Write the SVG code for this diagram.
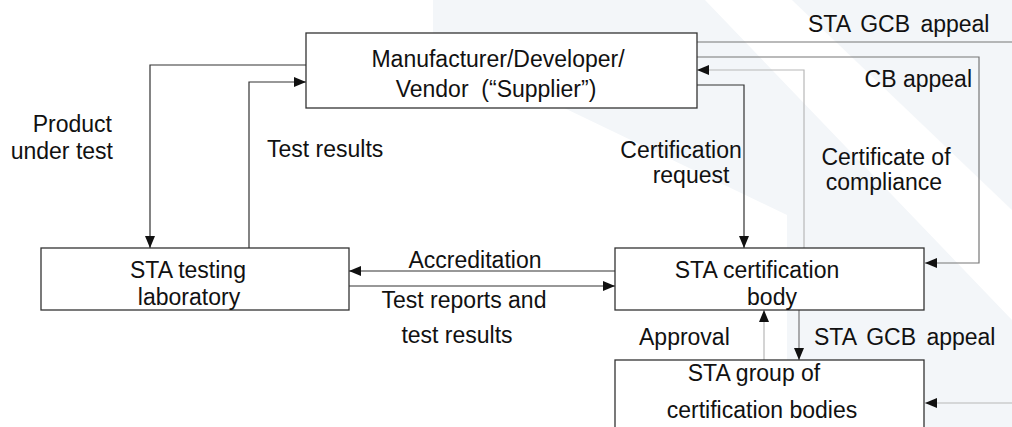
<svg xmlns="http://www.w3.org/2000/svg" width="1012" height="427" viewBox="0 0 1012 427">
  <style>
    text { font-family: "Liberation Sans", Arial, sans-serif; font-size: 23px; fill: #111; }
    .box { fill: #fff; stroke: #333; stroke-width: 1.3; }
    .ln { fill: none; stroke: #333; stroke-width: 1.2; }
    .mid { stroke: #777; }
    .lite { stroke: #b8b8b8; }
    .wm { fill: #f3f6f9; }
  </style>
  <defs>
    <marker id="arr" markerUnits="userSpaceOnUse" markerWidth="13" markerHeight="11" refX="12" refY="5" orient="auto">
      <path d="M0,0 L12,5 L0,10 z" fill="#111"/>
    </marker>
  </defs>
  <rect width="1012" height="427" fill="#fff"/>

  <!-- faint background emblem -->
  <g id="backdrop">
    <polygon class="wm" points="433,0 705,0 1012,320 1012,427 787,427 787,215 433,45"/>
    <polygon class="wm" points="792,0 1012,0 1012,210"/>
  </g>

  <g id="connectors">
    <path class="ln" d="M306,65 H150 V248" marker-end="url(#arr)"/>
    <path class="ln" d="M249,248 V82 H306" marker-end="url(#arr)"/>
    <path class="ln" d="M697,85 H744 V248" marker-end="url(#arr)"/>
    <path class="ln lite" d="M804,248 V70 H697" marker-end="url(#arr)"/>
    <path class="ln mid" d="M697,57 H979 V263 H925" marker-end="url(#arr)"/>
    <path class="ln mid" d="M697,42 H1012"/>
    <path class="ln" d="M615,271 H349" marker-end="url(#arr)"/>
    <path class="ln" d="M349,286 H615" marker-end="url(#arr)"/>
    <path class="ln lite" d="M764,360 V310" marker-end="url(#arr)"/>
    <path class="ln mid" d="M799,310 V360" marker-end="url(#arr)"/>
    <path class="ln lite" d="M1012,403 H925" marker-end="url(#arr)"/>
  </g>

  <g id="supplier">
    <rect class="box" x="306" y="33" width="391" height="75"/>
    <text x="498" y="67" text-anchor="middle">Manufacturer/Developer/</text>
    <text x="496" y="97" text-anchor="middle" xml:space="preserve">Vendor  (“Supplier”)</text>
  </g>

  <g id="testing-lab">
    <rect class="box" x="41" y="248" width="308" height="62"/>
    <text x="188" y="278" text-anchor="middle">STA testing</text>
    <text x="189" y="305" text-anchor="middle">laboratory</text>
  </g>

  <g id="cert-body">
    <rect class="box" x="615" y="248" width="309" height="62"/>
    <text x="757" y="278" text-anchor="middle">STA certification</text>
    <text x="772" y="305" text-anchor="middle">body</text>
  </g>

  <g id="group-cb">
    <rect class="box" x="615" y="360" width="309" height="80"/>
    <text x="754" y="381" text-anchor="middle">STA group of</text>
    <text x="762" y="418" text-anchor="middle">certification bodies</text>
  </g>

  <g id="labels">
    <text x="112" y="132" text-anchor="end">Product</text>
    <text x="113" y="159" text-anchor="end">under test</text>
    <text x="267" y="157">Test results</text>
    <text x="681" y="158" text-anchor="middle">Certification</text>
    <text x="691" y="183" text-anchor="middle">request</text>
    <text x="886" y="165" text-anchor="middle">Certificate of</text>
    <text x="884" y="190" text-anchor="middle">compliance</text>
    <text x="972" y="87" text-anchor="end">CB appeal</text>
    <text x="808" y="32" word-spacing="4">STA GCB appeal</text>
    <text x="475" y="268" text-anchor="middle">Accreditation</text>
    <text x="464" y="308" text-anchor="middle">Test reports and</text>
    <text x="457" y="343" text-anchor="middle">test results</text>
    <text x="639" y="345">Approval</text>
    <text x="814" y="345" word-spacing="4">STA GCB appeal</text>
  </g>
</svg>
